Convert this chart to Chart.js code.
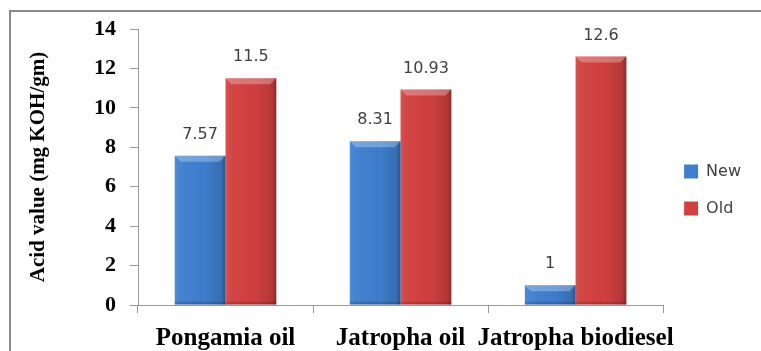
<!DOCTYPE html>
<html>
<head>
<meta charset="utf-8">
<script src="https://cdn.jsdelivr.net/npm/chart.js@4/dist/chart.umd.min.js"></script>
<style>
  html, body { margin: 0; padding: 0; background: #ffffff; }
  #wrap { width: 761px; height: 351px; position: relative; }
</style>
</head>
<body>
<div id="wrap"><canvas id="chart" width="761" height="351"></canvas></div>
<script>
// Acid value of oils and biodiesel, new vs old samples
const categories = ['Pongamia oil', 'Jatropha oil', 'Jatropha biodiesel'];
const newValues = [7.57, 8.31, 1];
const oldValues = [11.5, 10.93, 12.6];
const seriesNames = ['New', 'Old'];
const yTicks = [0, 2, 4, 6, 8, 10, 12, 14];

const BLUE = '#3f7fcf';
const RED = '#d24040';
const AXIS = '#9a9a9a';
const SERIF = '"Times New Roman", "Liberation Serif", serif';
const SANS = '"DejaVu Sans", Verdana, sans-serif';

// Frame line along the top and left edge of the figure
const framePlugin = {
  id: 'frame',
  beforeDraw(chart) {
    const ctx = chart.ctx;
    ctx.save();
    ctx.strokeStyle = '#8a8a8a';
    ctx.lineWidth = 2;
    ctx.beginPath();
    ctx.moveTo(10, chart.height);
    ctx.lineTo(10, 11);
    ctx.lineTo(chart.width, 11);
    ctx.stroke();
    ctx.restore();
  }
};

// Shading and bevel on each bar, plus the value printed above it
const barStylePlugin = {
  id: 'barStyle',
  afterDatasetsDraw(chart) {
    const ctx = chart.ctx;
    chart.data.datasets.forEach((ds, di) => {
      const meta = chart.getDatasetMeta(di);
      if (meta.hidden) return;
      meta.data.forEach((bar, i) => {
        const p = bar.getProps(['x', 'y', 'base', 'width'], true);
        const left = p.x - p.width / 2;
        const right = p.x + p.width / 2;
        const top = Math.min(p.y, p.base);
        const bottom = Math.max(p.y, p.base);
        const h = bottom - top;
        ctx.save();
        // horizontal shading: light on the left, dark toward the right edge
        const g = ctx.createLinearGradient(left, 0, right, 0);
        g.addColorStop(0, 'rgba(255,255,255,0.10)');
        g.addColorStop(0.08, 'rgba(255,255,255,0.04)');
        g.addColorStop(0.6, 'rgba(0,0,0,0.02)');
        g.addColorStop(0.92, 'rgba(0,0,0,0.14)');
        g.addColorStop(1, 'rgba(0,0,0,0.35)');
        ctx.fillStyle = g;
        ctx.fillRect(left, top, p.width, h);
        // bottom shade
        const gv = ctx.createLinearGradient(0, bottom - 4, 0, bottom);
        gv.addColorStop(0, 'rgba(0,0,0,0)');
        gv.addColorStop(1, 'rgba(0,0,0,0.25)');
        ctx.fillStyle = gv;
        ctx.fillRect(left, bottom - 4, p.width, 4);
        // top bevel
        const b = Math.min(6, h / 2);
        ctx.beginPath();
        ctx.moveTo(left, top);
        ctx.lineTo(right, top);
        ctx.lineTo(right - b, top + b);
        ctx.lineTo(left + b, top + b);
        ctx.closePath();
        ctx.fillStyle = 'rgba(255,255,255,0.28)';
        ctx.fill();
        // value label
        ctx.fillStyle = '#404040';
        ctx.font = '16px ' + SANS;
        ctx.textAlign = 'center';
        ctx.textBaseline = 'middle';
        ctx.fillText(String(ds.data[i]), p.x, p.y - 21);
        ctx.restore();
      });
    });
  }
};

new Chart(document.getElementById('chart'), {
  type: 'bar',
  data: {
    labels: categories,
    datasets: [
      { label: seriesNames[0], data: newValues, backgroundColor: BLUE, borderWidth: 0 },
      { label: seriesNames[1], data: oldValues, backgroundColor: RED, borderWidth: 0 }
    ]
  },
  options: {
    responsive: false,
    animation: false,
    events: [],
    layout: { padding: { left: 26, top: 29, right: 10, bottom: 0 } },
    datasets: { bar: { categoryPercentage: 0.58, barPercentage: 1.0 } },
    plugins: {
      legend: {
        position: 'right',
        labels: {
          boxWidth: 14,
          boxHeight: 14,
          padding: 21,
          color: '#404040',
          font: { family: SANS, size: 16 }
        }
      },
      tooltip: { enabled: false },
      title: { display: false }
    },
    scales: {
      x: {
        grid: { drawOnChartArea: false, drawTicks: true, tickLength: 8, color: AXIS, offset: true },
        border: { display: true, color: AXIS, width: 1 },
        ticks: {
          color: '#000',
          autoSkip: false,
          maxRotation: 0,
          minRotation: 0,
          padding: 11,
          font: { family: SERIF, size: 25, weight: 'bold' }
        },
        afterFit(scale) { scale.height = 46; }
      },
      y: {
        min: 0,
        max: 14,
        afterBuildTicks(scale) { scale.ticks = yTicks.map(v => ({ value: v })); },
        grid: { drawOnChartArea: false, drawTicks: true, tickLength: 8, color: AXIS },
        border: { display: true, color: AXIS, width: 1 },
        ticks: {
          color: '#000',
          padding: 14,
          font: { family: SERIF, size: 22, weight: 'bold' }
        },
        title: {
          display: true,
          text: 'Acid value (mg KOH/gm)',
          color: '#000',
          padding: { top: 0, bottom: 0 },
          font: { family: SERIF, size: 21, weight: 'bold' }
        },
        afterFit(scale) { scale.width = 112; }
      }
    }
  },
  plugins: [framePlugin, barStylePlugin]
});
</script>
</body>
</html>
